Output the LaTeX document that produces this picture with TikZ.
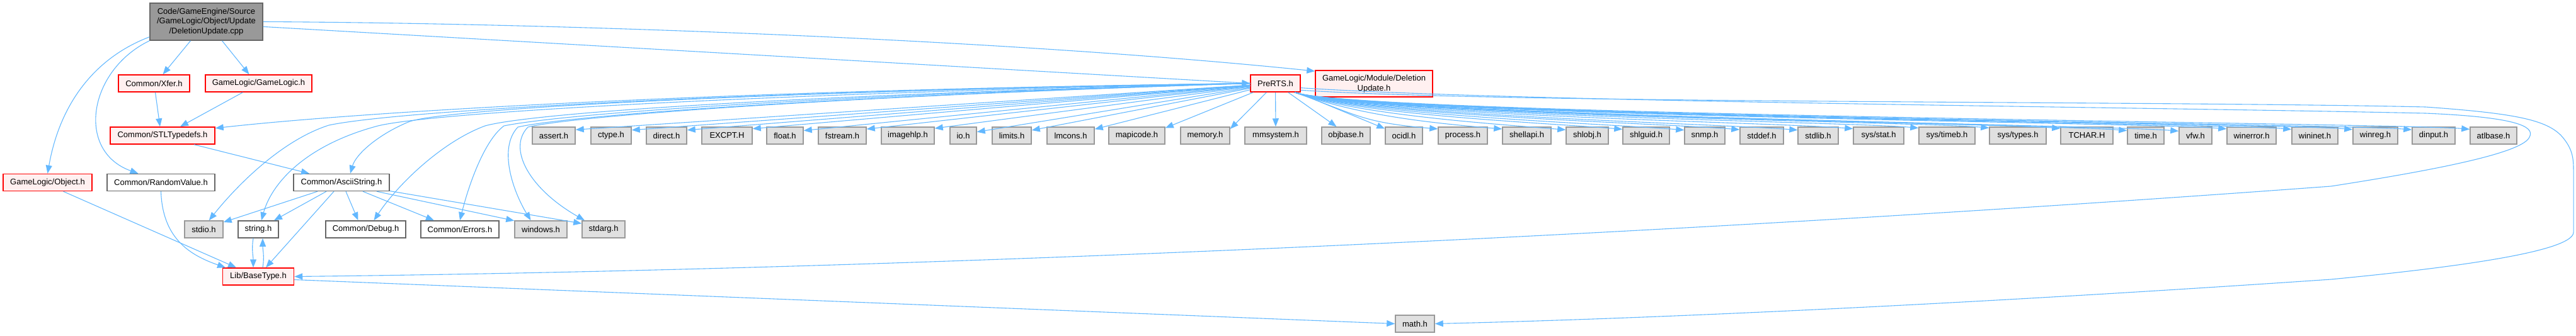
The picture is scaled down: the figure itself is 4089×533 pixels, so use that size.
\documentclass[tikz,border=0pt]{standalone}
\usepackage{fontspec}
\setmainfont{Liberation Sans}
\usetikzlibrary{arrows.meta}
\definecolor{edgec}{HTML}{63B8FF}
\definecolor{redb}{HTML}{FF0000}
\definecolor{redf}{HTML}{FFF0F0}
\definecolor{grayb}{HTML}{666666}
\definecolor{sysb}{HTML}{999999}
\definecolor{sysf}{HTML}{E0E0E0}
\definecolor{topf}{HTML}{999999}
\begin{document}
\begin{tikzpicture}[x=1pt,y=-1pt,
  nbase/.style={rectangle, inner sep=0pt, minimum height=27pt, line width=1.5pt, font=\fontsize{13}{15.5}\selectfont, align=center, text=black},
  redn/.style={nbase, draw=redb, fill=redf},
  whiten/.style={nbase, draw=grayb, fill=white},
  sysn/.style={nbase, draw=sysb, fill=sysf},
  topn/.style={nbase, draw=grayb, fill=topf},
  dep/.style={draw=edgec, line width=1.1pt, -{Triangle[length=13pt,width=10pt]}}
]
\path[use as bounding box] (0,0) rectangle (4089,533);

% top
\node[topn, minimum width=179pt, minimum height=59pt] (top) at (327.5,34.5) {Code/GameEngine/Source\\/GameLogic/Object/Update\\/DeletionUpdate.cpp};
% row 1
\node[redn, minimum width=113pt] (xfer) at (244.5,132.5) {Common/Xfer.h};
\node[redn, minimum width=169pt] (gamelogic) at (410.5,132.5) {GameLogic/GameLogic.h};
\node[redn, minimum width=79pt] (prerts) at (2024.5,132.5) {PreRTS.h};
\node[redn, minimum width=186pt, minimum height=42pt] (delupd) at (2181,133) {GameLogic/Module/Deletion\\Update.h};
% row 2
\node[redn, minimum width=166pt] (stl) at (258,215.5) {Common/STLTypedefs.h};
\node[sysn, minimum width=68pt] (assert) at (879,215.5) {assert.h};
\node[sysn, minimum width=64pt] (ctype) at (970,215.5) {ctype.h};
\node[sysn, minimum width=64pt] (direct) at (1058,215.5) {direct.h};
\node[sysn, minimum width=80pt] (excpt) at (1154,215.5) {EXCPT.H};
\node[sysn, minimum width=58pt] (float) at (1246,215.5) {float.h};
\node[sysn, minimum width=76pt] (fstream) at (1337,215.5) {fstream.h};
\node[sysn, minimum width=84pt] (imagehlp) at (1441,215.5) {imagehlp.h};
\node[sysn, minimum width=42pt] (io) at (1529,215.5) {io.h};
\node[sysn, minimum width=62pt] (limits) at (1606,215.5) {limits.h};
\node[sysn, minimum width=75pt] (lmcons) at (1699.5,215.5) {lmcons.h};
\node[sysn, minimum width=89pt] (mapicode) at (1804.5,215.5) {mapicode.h};
\node[sysn, minimum width=78pt] (memory) at (1913,215.5) {memory.h};
\node[sysn, minimum width=98pt] (mmsystem) at (2025,215.5) {mmsystem.h};
\node[sysn, minimum width=77pt] (objbase) at (2136.5,215.5) {objbase.h};
\node[sysn, minimum width=59pt] (ocidl) at (2228.5,215.5) {ocidl.h};
\node[sysn, minimum width=78pt] (process) at (2322,215.5) {process.h};
\node[sysn, minimum width=77pt] (shellapi) at (2423.5,215.5) {shellapi.h};
\node[sysn, minimum width=67pt] (shlobj) at (2519.5,215.5) {shlobj.h};
\node[sysn, minimum width=74pt] (shlguid) at (2613,215.5) {shlguid.h};
\node[sysn, minimum width=64pt] (snmp) at (2706,215.5) {snmp.h};
\node[sysn, minimum width=69pt] (stddef) at (2796.5,215.5) {stddef.h};
\node[sysn, minimum width=64pt] (stdlib) at (2886,215.5) {stdlib.h};
\node[sysn, minimum width=80pt] (sysstat) at (2982,215.5) {sys/stat.h};
\node[sysn, minimum width=89pt] (systimeb) at (3090.5,215.5) {sys/timeb.h};
\node[sysn, minimum width=90pt] (systypes) at (3203,215.5) {sys/types.h};
\node[sysn, minimum width=83pt] (tchar) at (3312.5,215.5) {TCHAR.H};
\node[sysn, minimum width=58pt] (time) at (3406,215.5) {time.h};
\node[sysn, minimum width=52pt] (vfw) at (3485,215.5) {vfw.h};
\node[sysn, minimum width=78pt] (winerror) at (3574,215.5) {winerror.h};
\node[sysn, minimum width=73pt] (wininet) at (3674.5,215.5) {wininet.h};
\node[sysn, minimum width=71pt] (winreg) at (3770.5,215.5) {winreg.h};
\node[sysn, minimum width=68pt] (dinput) at (3863,215.5) {dinput.h};
\node[sysn, minimum width=74pt] (atlbase) at (3958,215.5) {atlbase.h};
% row 3
\node[redn, minimum width=141pt] (object) at (75.5,290) {GameLogic/Object.h};
\node[whiten, minimum width=171pt] (random) at (255.5,290) {Common/RandomValue.h};
\node[whiten, minimum width=152pt] (ascii) at (542,290) {Common/AsciiString.h};
% row 4
\node[sysn, minimum width=61pt] (stdio) at (323.5,364.5) {stdio.h};
\node[whiten, minimum width=64pt] (string) at (410,364.5) {string.h};
\node[whiten, minimum width=127pt] (debug) at (580.5,364.5) {Common/Debug.h};
\node[whiten, minimum width=124pt] (errors) at (730,364.5) {Common/Errors.h};
\node[sysn, minimum width=83pt] (windows) at (858.5,364.5) {windows.h};
\node[sysn, minimum width=68pt] (stdarg) at (958,364.5) {stdarg.h};
% row 5
\node[redn, minimum width=113pt] (basetype) at (410,439.5) {Lib/BaseType.h};
\node[sysn, minimum width=62pt] (math) at (2246,514.5) {math.h};

% edges from top node
\draw[dep] (top.195) .. controls (150,92) and (95,165) .. (object.north);
\draw[dep] (top.south west) .. controls (140,112) and (120,240) .. ([xshift=-36pt]random.north);
\draw[dep] ([xshift=-25pt]top.south) -- ([xshift=14pt]xfer.north);
\draw[dep] ([xshift=25pt]top.south) -- ([xshift=-15pt]gamelogic.north);
\draw[dep] (top.east) .. controls (900,37) and (1600,63) .. (delupd.168);
\draw[dep] (top.-5) -- (prerts.west);

% row 1 -> row 2
\draw[dep] ([xshift=2pt]xfer.south) -- ([xshift=-4pt]stl.north);
\draw[dep] ([xshift=-25pt]gamelogic.south) -- ([xshift=28pt]stl.north);
\draw[dep] ([xshift=50pt]stl.south) -- ([xshift=-51pt]ascii.north);

% row 3 -> lower
\draw[dep] ([xshift=25pt]object.south) -- ([xshift=-35pt]basetype.north);
\draw[dep] (random.south) .. controls (258,378) and (300,405) .. ([xshift=-52pt]basetype.north);
\draw[dep] ([xshift=-38pt]ascii.south) -- (stdio.20);
\draw[dep] ([xshift=-24pt]ascii.south) -- ([xshift=25pt]string.north);
\draw[dep] ([xshift=-12pt]ascii.south) -- ([xshift=12pt]basetype.north);
\draw[dep] ([xshift=7pt]ascii.south) -- ([xshift=-12pt]debug.north);
\draw[dep] ([xshift=34pt]ascii.south) -- ([xshift=-41pt]errors.north);
\draw[dep] ([xshift=56pt]ascii.south) -- (windows.162);
\draw[dep] (ascii.-10) -- (stdarg.165);

% string <-> basetype
\draw[dep] ([xshift=-8pt]string.south) .. controls +(-3,18) and +(0,-18) .. ([xshift=-8pt]basetype.north);
\draw[dep] ([xshift=7pt]basetype.north) .. controls +(3,-18) and +(0,18) .. ([xshift=7pt]string.south);

% basetype -> math
\draw[dep] (basetype.-5) -- (math.west);

% PreRTS -> left-bottom nodes
\draw[dep] (prerts.west) .. controls (1200,142) and (600,175) .. (stl.8);
\draw[dep] (prerts.west) .. controls (1250,144) and (700,172) .. (648,194) .. controls (600,214) and (565,245) .. ([xshift=14pt]ascii.north);
\draw[dep] (prerts.west) .. controls (1300,142) and (650,172) .. (522,199) .. controls (450,222) and (380,290) .. (stdio.60);
\draw[dep] (prerts.west) .. controls (1300,146) and (700,176) .. (600,200) .. controls (480,232) and (430,295) .. ([xshift=5pt]string.north);
\draw[dep] (prerts.west) .. controls (1300,150) and (850,178) .. (770,200) .. controls (700,226) and (630,295) .. ([xshift=13pt]debug.north);
\draw[dep] (prerts.west) .. controls (1300,152) and (900,180) .. (800,200) .. controls (770,222) and (745,290) .. (errors.north);
\draw[dep] (prerts.west) .. controls (1300,154) and (900,184) .. (822,202) .. controls (790,236) and (815,305) .. ([xshift=-16pt]windows.north);
\draw[dep] (prerts.west) .. controls (1300,154) and (900,186) .. (838,202) .. controls (805,236) and (840,300) .. ([xshift=-30pt]stdarg.north);

% PreRTS -> row 2 left
\foreach \n in {assert,ctype,direct,excpt,float,fstream,imagehlp,io,limits,lmcons,mapicode,memory}
  \draw[dep] (prerts) -- (\n.15);
\draw[dep] (prerts) -- (mmsystem);
\draw[dep] (prerts) -- ([xshift=-15pt]objbase.north);
\draw[dep] (prerts) -- (ocidl.160);
% PreRTS -> row 2 right
\foreach \n in {process,shellapi,shlobj,shlguid,snmp,stddef,stdlib,sysstat,systimeb,systypes,tchar,time,vfw,winerror,wininet,winreg,dinput,atlbase}
  \draw[dep] (prerts.-25) .. controls +(100,36) and +(-120,-10) .. (\n.165);

% PreRTS -> BaseType (loop round the right)
\draw[dep] (prerts.-10) .. controls (2400,162) and (3400,170) .. (3850,180) .. controls (3990,186) and (4025,200) .. (4015,218) .. controls (4005,240) and (3900,265) .. (3700,296) .. controls (2700,370) and (1500,428) .. (basetype.east);
% PreRTS -> math (loop round the right)
\draw[dep] (prerts.-15) .. controls (2400,165) and (3400,160) .. (3850,170) .. controls (3990,180) and (4040,190) .. (4065,215) .. controls (4083,235) and (4085,250) .. (4085,270) -- (4085,369) .. controls (4085,395) and (3950,420) .. (3700,444) .. controls (3100,485) and (2600,507) .. (math.east);
\end{tikzpicture}
\end{document}
